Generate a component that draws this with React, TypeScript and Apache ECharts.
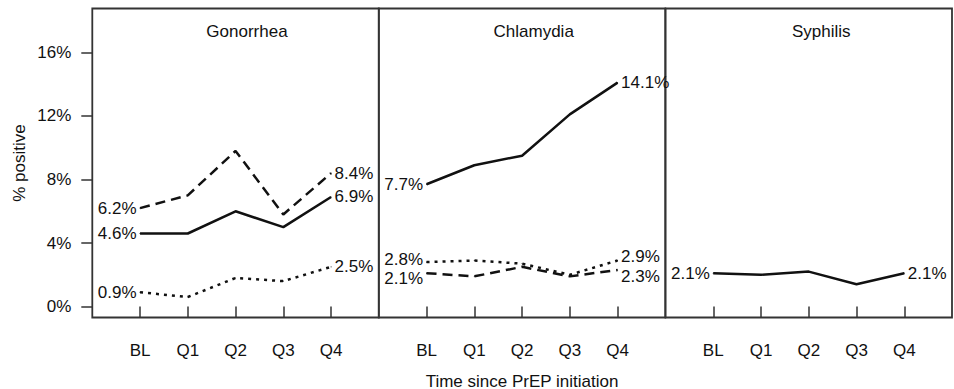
import React, { useEffect, useRef } from "react";
import * as echarts from "echarts";

const categories = ["BL", "Q1", "Q2", "Q3", "Q4"];
const panelTitles = ["Gonorrhea", "Chlamydia", "Syphilis"];
const yTicks = [0, 4, 8, 12, 16];
const xTicks = [1, 2, 3, 4, 5];

const gonoSolid = [4.6, 4.6, 6.0, 5.0, 6.9];
const gonoDashed = [6.2, 7.0, 9.8, 5.8, 8.4];
const gonoDotted = [0.9, 0.6, 1.8, 1.6, 2.5];

const chlaSolid = [7.7, 8.9, 9.5, 12.1, 14.1];
const chlaDotted = [2.8, 2.9, 2.7, 2.0, 2.9];
const chlaDashed = [2.1, 1.9, 2.5, 1.9, 2.3];

const syphSolid = [2.1, 2.0, 2.2, 1.4, 2.1];

const FONT = "Liberation Sans, Arial, Helvetica, sans-serif";
const INK = "#111";
const BORDER = "#333";

const DASHED: number[] = [10, 6];
const DOTTED: number[] = [3, 5];

function mkSeries(
  values: number[],
  gridIndex: number,
  type: "solid" | number[],
  dyL = 0,
  dyR = 0
) {
  return {
    type: "line",
    xAxisIndex: gridIndex,
    yAxisIndex: gridIndex,
    symbol: "circle",
    symbolSize: 1,
    showSymbol: true,
    silent: true,
    itemStyle: { color: INK },
    lineStyle: { color: INK, width: 2.5, type: type, cap: "butt" },
    labelLayout: (p: any) => ({
      hideOverlap: false,
      moveOverlap: false,
      dy: p.dataIndex === 0 ? dyL : dyR,
    }),
    data: values.map((v, i) => {
      const item: any = { value: [xTicks[i], v] };
      if (i === 0 || i === values.length - 1) {
        item.label = {
          show: true,
          position: i === 0 ? "left" : "right",
          distance: 3,
          formatter: v.toFixed(1) + "%",
          fontSize: 17,
          lineHeight: 17,
          fontFamily: FONT,
          color: INK,
        };
      } else {
        item.label = { show: false };
      }
      return item;
    }),
  };
}

export default function App() {
  const ref = useRef<HTMLDivElement>(null);
  useEffect(() => {
    if (!ref.current) return;
    const chart = echarts.init(ref.current, undefined, { renderer: "svg" });
    const gridLefts = [92.3, 378.8, 665.5];
    const gridW = 286.5;
    const grids = gridLefts.map((l) => ({
      left: l,
      top: 8.5,
      width: gridW,
      height: 309,
      show: true,
      borderColor: BORDER,
      borderWidth: 1.8,
      backgroundColor: "transparent",
      containLabel: false,
      outerBoundsMode: "none",
    }));
    const xAxes = grids.map((_, i) => ({
      type: "value",
      gridIndex: i,
      min: 0,
      max: 6,
      splitLine: { show: false },
      axisLine: { show: false },
      axisTick: {
        show: true,
        length: 11,
        lineStyle: { color: BORDER, width: 1.5 },
        customValues: xTicks,
      },
      axisLabel: {
        show: true,
        margin: 24,
        fontSize: 17,
        fontFamily: FONT,
        color: INK,
        customValues: xTicks,
        formatter: (v: number) => categories[Math.round(v) - 1] ?? "",
      },
      name: i === 1 ? "Time since PrEP initiation" : "",
      nameLocation: "middle",
      nameGap: 55,
      nameTextStyle: { fontSize: 17, fontFamily: FONT, color: INK },
    }));
    const yAxes = grids.map((_, i) => ({
      type: "value",
      gridIndex: i,
      min: -0.69,
      max: 18.77,
      splitLine: { show: false },
      axisLine: { show: false },
      axisTick: {
        show: i === 0,
        length: 11,
        lineStyle: { color: BORDER, width: 1.5 },
        customValues: yTicks,
      },
      axisLabel: {
        show: i === 0,
        margin: 21,
        fontSize: 17,
        fontFamily: FONT,
        color: INK,
        customValues: yTicks,
        formatter: (v: number) => v + "%",
      },
      name: i === 0 ? "% positive" : "",
      nameLocation: "middle",
      nameGap: 64,
      nameRotate: 90,
      nameTextStyle: { fontSize: 17, fontFamily: FONT, color: INK },
    }));
    const titleXs = [247, 533.7, 821.3];
    chart.setOption({
      animation: false,
      grid: grids,
      xAxis: xAxes,
      yAxis: yAxes,
      graphic: panelTitles.map((t, i) => ({
        type: "text",
        x: titleXs[i],
        y: 31,
        style: {
          text: t,
          fontSize: 17,
          fontFamily: FONT,
          fill: INK,
          textAlign: "center",
          textVerticalAlign: "middle",
        },
      })),
      series: [
        mkSeries(gonoDashed, 0, DASHED),
        mkSeries(gonoSolid, 0, "solid"),
        mkSeries(gonoDotted, 0, DOTTED),
        mkSeries(chlaSolid, 1, "solid"),
        mkSeries(chlaDotted, 1, DOTTED, -2.5, -4),
        mkSeries(chlaDashed, 1, DASHED, 5.5, 6.5),
        mkSeries(syphSolid, 2, "solid"),
      ],
    });
    return () => chart.dispose();
  }, []);
  return (
    <div
      ref={ref}
      style={{ position: "absolute", left: 0, top: 0, width: 954, height: 389, background: "#fff" }}
    />
  );
}
